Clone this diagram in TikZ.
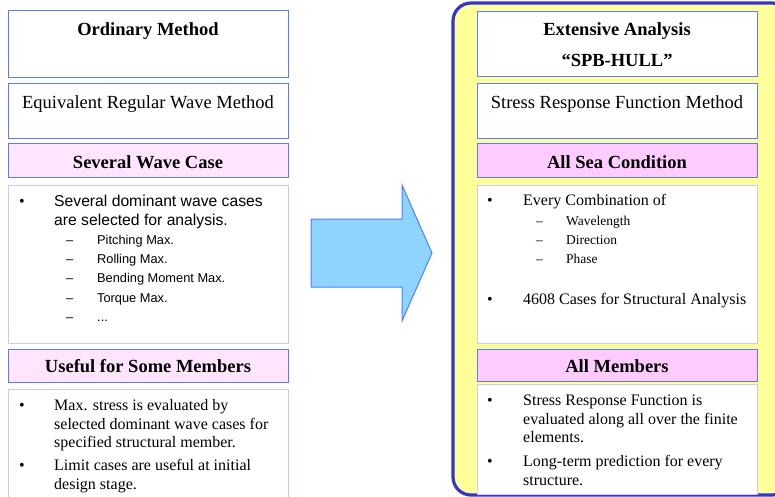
\documentclass[tikz,border=0pt]{standalone}
\usepackage{fontspec}
\setmainfont{Liberation Serif}
\setsansfont{Liberation Sans}
\definecolor{tb}{HTML}{5B7BFF}
\definecolor{lb}{HTML}{C8CAFF}
\definecolor{pinkL}{HTML}{FFE5FF}
\definecolor{pinkR}{HTML}{FFCCFF}
\definecolor{yel}{HTML}{FFFF99}
\definecolor{panelb}{HTML}{3535CC}
\definecolor{arrf}{HTML}{8FD3FF}
\definecolor{arrb}{HTML}{4F7FFF}
\tikzset{
  boxbase/.style={inner sep=0pt, outer sep=0pt, line width=1pt},
  tbox/.style={boxbase, draw=tb, fill=white},
  pbox/.style={boxbase, draw=tb},
  lbox/.style={boxbase, draw=lb, fill=white},
  big/.style={font=\fontsize{18.5}{22}\selectfont},
  bigb/.style={font=\fontsize{18.5}{22}\selectfont\bfseries},
  ser/.style={font=\fontsize{16}{19}\selectfont, anchor=base west, inner sep=0pt},
  sers/.style={font=\fontsize{13.5}{15}\selectfont, anchor=base west, inner sep=0pt},
  sans/.style={font=\sffamily\fontsize{15.7}{18}\selectfont, anchor=base west, inner sep=0pt},
  sanss/.style={font=\sffamily\fontsize{12.8}{15}\selectfont, anchor=base west, inner sep=0pt},
  ttl/.style={anchor=base, inner sep=0pt},
}
\begin{document}
\begin{tikzpicture}[x=1pt,y=-1pt]
\useasboundingbox (0,0) rectangle (775,497);
% right panel
\draw[fill=yel, draw=panelb, line width=3.2pt, rounded corners=18pt] (453,3) rectangle (790,495);
% left column boxes
\node[tbox, minimum width=280pt, minimum height=67pt] (om) at (148,44.5) {};
\node[tbox, minimum width=280pt, minimum height=55pt] (erw) at (148,111.5) {};
\node[pbox, fill=pinkL, minimum width=280pt, minimum height=33pt] (swc) at (148,160.5) {};
\node[lbox, minimum width=280pt, minimum height=158pt] (swl) at (148,264) {};
\node[pbox, fill=pinkL, minimum width=280pt, minimum height=33pt] (ufm) at (148,365.5) {};
\node[lbox, minimum width=280pt, minimum height=120pt] (ufl) at (148,449) {};
% right column boxes
\node[tbox, minimum width=280pt, minimum height=65pt] (ea) at (617,44.5) {};
\node[tbox, minimum width=280pt, minimum height=55pt] (srf) at (617,111.5) {};
\node[pbox, fill=pinkR, minimum width=280pt, minimum height=33pt] (asc) at (617,160.5) {};
\node[lbox, minimum width=280pt, minimum height=158pt] (ascl) at (617,264) {};
\node[pbox, fill=pinkR, minimum width=280pt, minimum height=32pt] (am) at (617,365) {};
\node[lbox, minimum width=280pt, minimum height=110pt] (aml) at (617,439.5) {};
% arrow
\draw[fill=arrf, draw=arrb, line width=1pt, line join=miter] (311,219) -- (402,219) -- (402,185) -- (432,253) -- (402,321) -- (402,287) -- (311,287) -- cycle;
% left titles
\node[ttl, bigb] (t1) at (148,35.5) {Ordinary Method};
\node[ttl, big] (t2) at (148,108.5) {Equivalent Regular Wave Method};
\node[ttl, bigb] (t3) at (148,168.5) {Several Wave Case};
\node[ttl, bigb] (t4) at (148,372.5) {Useful for Some Members};
% left list 1
\node[ser, anchor=base] (lb1) at (22,206) {\textbullet};
\node[sans] (l1a) at (54,206) {Several dominant wave cases};
\node[sans] (l1b) at (54,225) {are selected for analysis.};
\node[sanss] (d1) at (66,244.3) {–};
\node[sanss] (s1) at (97,244.3) {Pitching Max.};
\node[sanss] (d2) at (66,263.6) {–};
\node[sanss] (s2) at (97,263.6) {Rolling Max.};
\node[sanss] (d3) at (66,282.9) {–};
\node[sanss] (s3) at (97,282.9) {Bending Moment Max.};
\node[sanss] (d4) at (66,302.2) {–};
\node[sanss] (s4) at (97,302.2) {Torque Max.};
\node[sanss] (d5) at (66,321.5) {–};
\node[sanss] (s5) at (97,321.5) {...};
% left list 2
\node[ser, anchor=base] (lb2) at (22,410.5) {\textbullet};
\node[ser] (m1) at (54,410.5) {Max. stress is evaluated by};
\node[ser] (m2) at (54,429) {selected dominant wave cases for};
\node[ser] (m3) at (54,447.5) {specified structural member.};
\node[ser, anchor=base] (lb3) at (22,470) {\textbullet};
\node[ser] (m4) at (54,470) {Limit cases are useful at initial};
\node[ser] (m5) at (54,489) {design stage.};
% right titles
\node[ttl, bigb] (r1) at (617,35.5) {Extensive Analysis};
\node[ttl, bigb] (r1b) at (617,67) {“SPB-HULL”};
\node[ttl, big] (r2) at (617,108.5) {Stress Response Function Method};
\node[ttl, bigb] (r3) at (617,168.5) {All Sea Condition};
\node[ttl, bigb] (r4) at (617,372.5) {All Members};
% right list 1
\node[ser, anchor=base] (rb1) at (490,205) {\textbullet};
\node[ser] (e1) at (523,205) {Every Combination of};
\node[sers] (rd1) at (536,225) {–};
\node[sers] (e2) at (566,225) {Wavelength};
\node[sers] (rd2) at (536,244) {–};
\node[sers] (e3) at (566,244) {Direction};
\node[sers] (rd3) at (536,263) {–};
\node[sers] (e4) at (566,263) {Phase};
\node[ser, anchor=base] (rb2) at (490,304) {\textbullet};
\node[ser] (e5) at (523,304) {4608 Cases for Structural Analysis};
% right list 2
\node[ser, anchor=base] (rb3) at (490,405) {\textbullet};
\node[ser] (f1) at (523,405) {Stress Response Function is};
\node[ser] (f2) at (523,424) {evaluated along all over the finite};
\node[ser] (f3) at (523,442.5) {elements.};
\node[ser, anchor=base] (rb4) at (490,466) {\textbullet};
\node[ser] (f4) at (523,466) {Long-term prediction for every};
\node[ser] (f5) at (523,485) {structure.};
\end{tikzpicture}
\end{document}
